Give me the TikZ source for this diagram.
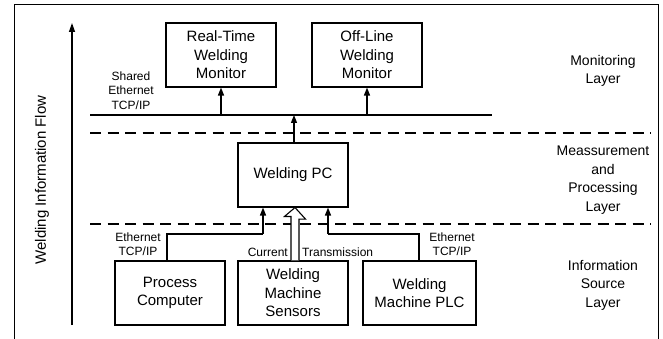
\documentclass[tikz,border=0pt]{standalone}
\usepackage{fontspec}
\setmainfont{Liberation Sans}
\usetikzlibrary{arrows.meta,calc}
\begin{document}
\begin{tikzpicture}[x=1pt,y=-1pt,
  box/.style={draw,line width=1.1pt,align=center,font=\fontsize{15}{18.5}\selectfont,inner sep=0pt,minimum width=110pt},
  small/.style={align=center,font=\fontsize{12}{14.5}\selectfont,inner sep=0pt},
  layer/.style={align=center,font=\fontsize{14}{18.5}\selectfont,inner sep=0pt},
  arr/.style={line width=1.3pt,-{Triangle[length=8pt,width=6pt]}},
  wire/.style={line width=1.3pt},
  sep/.style={line width=2.2pt,dash pattern=on 11pt off 6.5pt}]
\useasboundingbox (0,0) rectangle (663,339);
% outer frame
\draw[line width=1pt] (14,340) -- (14,5) -- (658,5) -- (658,340);
% information flow axis
\coordinate (flowB) at (72,325);
\coordinate (flowT) at (72,23);
\draw[line width=1.3pt,-{Triangle[length=9pt,width=6pt]}] (flowB) -- (flowT);
\node[rotate=90,font=\fontsize{15}{18}\selectfont] (flow) at (42,180) {Welding Information Flow};
% monitoring layer
\node[box,minimum height=64pt] (rt) at (221,55) {Real-Time\\Welding\\Monitor};
\node[box,minimum height=64pt] (ol) at (367,55) {Off-Line\\Welding\\Monitor};
\node[small] (shared) at (131,90.5) {Shared\\Ethernet\\TCP/IP};
\coordinate (busL) at (90,115);
\coordinate (busR) at (492,115);
\draw[line width=2.6pt] (busL) -- (busR);
\coordinate (b1) at (221,115);
\coordinate (b2) at (367,115);
\draw[arr] (b1) -- (b1 |- rt.south);
\draw[arr] (b2) -- (b2 |- ol.south);
% layer separators
\coordinate (s1L) at (90,133);
\coordinate (s1R) at (651,133);
\coordinate (s2L) at (90,224);
\coordinate (s2R) at (651,224);
\draw[sep] (s1L) -- (s1R);
\draw[sep] (s2L) -- (s2R);
% processing layer
\node[box,minimum height=64pt] (pc) at (293,175) {Welding PC};
\coordinate (b3) at (294,115);
\draw[arr] (pc.north -| b3) -- (b3);
% source layer
\node[box,minimum height=64pt] (proc) at (170,293) {Process\\Computer};
\node[box,minimum height=64pt] (sens) at (293,293) {Welding\\Machine\\Sensors};
\node[box,minimum width=113pt,minimum height=64pt] (plc) at (419.5,293) {Welding\\Machine PLC};
% connectors into the welding PC
\coordinate (j1) at (167,234);
\coordinate (j2) at (263,234);
\draw[wire] (proc.north -| j1) -- (j1) -- (j2);
\draw[arr] (j2) -- (j2 |- pc.south);
\coordinate (j3) at (419,234);
\coordinate (j4) at (328,234);
\draw[wire] (plc.north -| j3) -- (j3) -- (j4);
\draw[arr] (j4) -- (j4 |- pc.south);
% hollow arrow for the current transmission
\coordinate (h) at (295,0);
\draw[line width=1.1pt,fill=white]
  ($(sens.north -| h)+(-4,0)$) -- ++(0,-44) -- ++(-6.5,0) -- (pc.south -| h)
  -- ++(10.5,11.5) -- ++(-6.5,0) -- ($(sens.north -| h)+(4,0)$);
\node[small,anchor=east] (cur) at (288,252) {Current};
\node[small,anchor=west] (tra) at (302,252) {Transmission};
\node[small] (eth1) at (138,244) {Ethernet\\TCP/IP};
\node[small] (eth2) at (452,244) {Ethernet\\TCP/IP};
% layer names
\node[layer] (lm) at (603,71) {Monitoring\\Layer};
\node[layer] (lp) at (603,180) {Meassurement\\and\\Processing\\Layer};
\node[layer] (ls) at (603,285) {Information\\Source\\Layer};
\end{tikzpicture}
\end{document}
